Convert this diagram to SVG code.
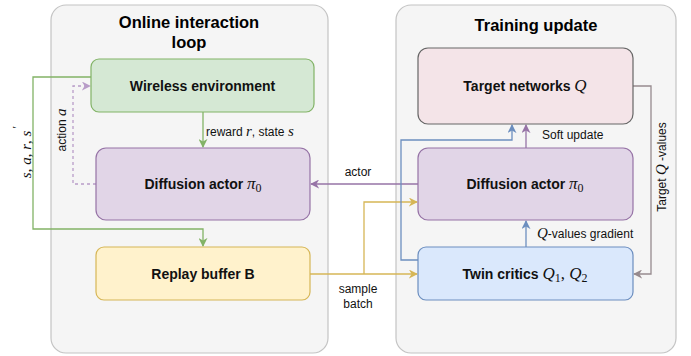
<svg xmlns="http://www.w3.org/2000/svg" width="691" height="356" viewBox="0 0 691 356">
<style>
.cont{fill:#f5f5f5;stroke:#c4c4c4;stroke-width:1.2}
.title{font-family:"Liberation Sans",Arial,sans-serif;font-weight:bold;font-size:16.5px;fill:#000;text-anchor:middle}
.nl{font-family:"Liberation Sans",Arial,sans-serif;font-weight:bold;font-size:14px;fill:#111;text-anchor:middle}
.el{font-family:"Liberation Sans",Arial,sans-serif;font-size:12px;fill:#111}
.m{font-family:"Liberation Serif","DejaVu Serif",serif;font-style:italic;font-weight:normal}
.mu{font-family:"Liberation Serif","DejaVu Serif",serif;font-style:normal;font-weight:normal}
.e{fill:none;stroke-width:1.3}
</style>
<defs>
<marker id="ag" viewBox="0 0 10 10" refX="9" refY="5" markerWidth="9" markerHeight="9" markerUnits="userSpaceOnUse" orient="auto"><path d="M0,0 L10,5 L0,10 L3,5 z" fill="#82b366"/></marker>
<marker id="ap" viewBox="0 0 10 10" refX="9" refY="5" markerWidth="9" markerHeight="9" markerUnits="userSpaceOnUse" orient="auto"><path d="M0,0 L10,5 L0,10 L3,5 z" fill="#9673a6"/></marker>
<marker id="apl" viewBox="0 0 10 10" refX="9" refY="5" markerWidth="9" markerHeight="9" markerUnits="userSpaceOnUse" orient="auto"><path d="M0,0 L10,5 L0,10 L3,5 z" fill="#b89cc8"/></marker>
<marker id="ay" viewBox="0 0 10 10" refX="9" refY="5" markerWidth="9" markerHeight="9" markerUnits="userSpaceOnUse" orient="auto"><path d="M0,0 L10,5 L0,10 L3,5 z" fill="#d6b656"/></marker>
<marker id="ab" viewBox="0 0 10 10" refX="9" refY="5" markerWidth="9" markerHeight="9" markerUnits="userSpaceOnUse" orient="auto"><path d="M0,0 L10,5 L0,10 L3,5 z" fill="#6c8ebf"/></marker>
<marker id="ak" viewBox="0 0 10 10" refX="9" refY="5" markerWidth="9" markerHeight="9" markerUnits="userSpaceOnUse" orient="auto"><path d="M0,0 L10,5 L0,10 L3,5 z" fill="#968a8e"/></marker>
</defs>

<g id="online-loop">
<rect class="cont" x="51" y="5" width="277" height="348" rx="15"/>
<text class="title" x="189" y="28">Online interaction</text>
<text class="title" x="189" y="48">loop</text>
</g>
<g id="training-update">
<rect class="cont" x="396" y="5" width="280" height="348" rx="15"/>
<text class="title" x="536" y="31">Training update</text>
</g>

<g id="connectors">
<path class="e" stroke="#82b366" d="M203,112 V147" marker-end="url(#ag)"/>
<path class="e" stroke="#b89cc8" stroke-dasharray="3,3" d="M96,184 H73 V86 H90" marker-end="url(#apl)"/>
<path class="e" stroke="#82b366" d="M91,77 H33 V229 H203 V246" marker-end="url(#ag)"/>
<path class="e" stroke="#9673a6" d="M418,184 H311" marker-end="url(#ap)"/>
<path class="e" stroke="#d6b656" d="M310,274 H417" marker-end="url(#ay)"/>
<path class="e" stroke="#d6b656" d="M364,274 V202 H417" marker-end="url(#ay)"/>
<path class="e" stroke="#6c8ebf" d="M418,260 H401 V140 H512 V125" marker-end="url(#ab)"/>
<path class="e" stroke="#9673a6" d="M526,148 V125" marker-end="url(#ap)"/>
<path class="e" stroke="#6c8ebf" d="M526,247 V221" marker-end="url(#ab)"/>
<path class="e" stroke="#968a8e" d="M633,86 H651 V274 H634" marker-end="url(#ak)"/>
<text class="el" x="206" y="136">reward <tspan class="m" font-size="15">r</tspan>, state <tspan class="m" font-size="15">s</tspan></text>
<text class="el" transform="translate(66,130) rotate(-90)" text-anchor="middle">action <tspan class="m" font-size="15">a</tspan></text>
<text class="el" transform="translate(31,152) rotate(-90)" text-anchor="middle"><tspan class="m" font-size="15">s</tspan><tspan class="mu" font-size="15">, </tspan><tspan class="m" font-size="15">a</tspan><tspan class="mu" font-size="15">, </tspan><tspan class="m" font-size="15">r</tspan><tspan class="mu" font-size="15">, </tspan><tspan class="m" font-size="15">s</tspan><tspan class="mu" font-size="13" dx="2" dy="-10">′</tspan></text>
<text class="el" x="358" y="176" text-anchor="middle">actor</text>
<text class="el" x="358" y="293" text-anchor="middle">sample</text>
<text class="el" x="358" y="308" text-anchor="middle">batch</text>
<text class="el" x="542" y="139">Soft update</text>
<text class="el" x="537" y="238"><tspan class="m" font-size="15">Q</tspan>-values gradient</text>
<text class="el" transform="translate(666,167) rotate(-90)" text-anchor="middle">Target <tspan class="m" font-size="15">Q</tspan> -values</text>
</g>

<g id="wireless-environment">
<rect x="91" y="59" width="223" height="53" rx="8" fill="#d5e8d4" stroke="#82b366" stroke-width="1.2"/>
<text class="nl" x="202.5" y="91">Wireless environment</text>
</g>
<g id="diffusion-actor-online">
<rect x="96" y="148" width="214" height="72" rx="10" fill="#e1d5e7" stroke="#9673a6" stroke-width="1.2"/>
<text class="nl" x="203" y="189">Diffusion actor <tspan class="m" font-size="17">π</tspan><tspan class="mu" font-size="12" dy="3">0</tspan></text>
</g>
<g id="replay-buffer">
<rect x="96" y="247" width="214" height="53" rx="8" fill="#fff2cc" stroke="#d6b656" stroke-width="1.2"/>
<text class="nl" x="203" y="279">Replay buffer B</text>
</g>
<g id="target-networks">
<rect x="418" y="48" width="215" height="76" rx="10" fill="#f4e4e8" stroke="#666666" stroke-width="1.2"/>
<text class="nl" x="525" y="91" fill="#333">Target networks <tspan class="m" font-size="17">Q</tspan></text>
</g>
<g id="diffusion-actor-training">
<rect x="418" y="148" width="215" height="72" rx="10" fill="#e1d5e7" stroke="#9673a6" stroke-width="1.2"/>
<text class="nl" x="525" y="189">Diffusion actor <tspan class="m" font-size="17">π</tspan><tspan class="mu" font-size="12" dy="3">0</tspan></text>
</g>
<g id="twin-critics">
<rect x="418" y="247" width="215" height="53" rx="8" fill="#dae8fc" stroke="#6c8ebf" stroke-width="1.2"/>
<text class="nl" x="525" y="279">Twin critics <tspan class="m" font-size="17">Q</tspan><tspan class="mu" font-size="12" dy="3">1</tspan><tspan class="mu" font-size="17" dy="-3">, </tspan><tspan class="m" font-size="17">Q</tspan><tspan class="mu" font-size="12" dy="3">2</tspan></text>
</g>
</svg>
